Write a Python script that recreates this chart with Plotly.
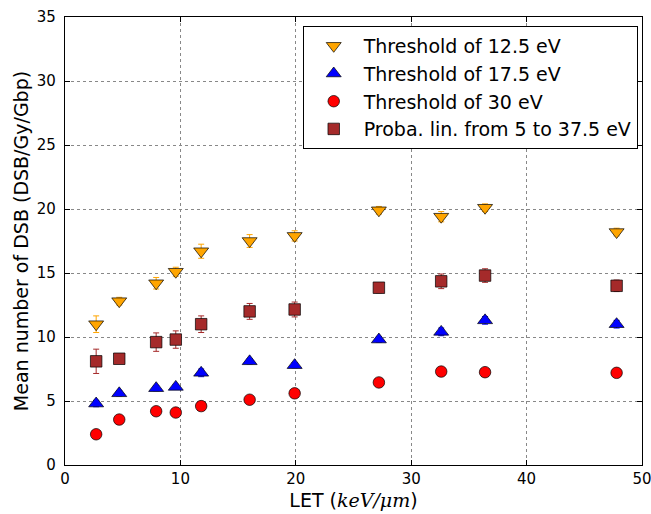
import plotly.graph_objects as go

let_values = [2.7, 4.7, 7.9, 9.6, 11.8, 16.0, 19.9, 27.2, 32.6, 36.4, 47.8]

thr125 = [11.0, 12.8, 14.2, 15.1, 16.7, 17.5, 17.9, 19.9, 19.4, 20.1, 18.2]
thr125_err = [0.65, 0.3, 0.45, 0.35, 0.55, 0.5, 0.4, 0.3, 0.4, 0.3, 0.3]

thr175 = [4.8, 5.6, 6.0, 6.1, 7.2, 8.1, 7.8, 9.8, 10.4, 11.3, 11.0]
thr175_err = [0.25, 0.2, 0.2, 0.2, 0.3, 0.2, 0.2, 0.2, 0.3, 0.3, 0.3]

thr30 = [2.4, 3.55, 4.2, 4.1, 4.6, 5.1, 5.6, 6.45, 7.3, 7.25, 7.2]
thr30_err = [0.2, 0.15, 0.15, 0.15, 0.15, 0.15, 0.15, 0.15, 0.15, 0.15, 0.15]

proba = [8.1, 8.3, 9.6, 9.8, 11.0, 12.0, 12.15, 13.85, 14.35, 14.8, 14.0]
proba_err = [0.95, 0.35, 0.72, 0.68, 0.65, 0.62, 0.58, 0.4, 0.57, 0.53, 0.45]

series = [
    ("Threshold of 12.5 eV", thr125, thr125_err, "triangle-down", "#FFA500", 13),
    ("Threshold of 17.5 eV", thr175, thr175_err, "triangle-up", "#0000FF", 13),
    ("Threshold of 30 eV", thr30, thr30_err, "circle", "#FF0000", 11.5),
    ("Proba. lin. from 5 to 37.5 eV", proba, proba_err, "square", "#A52A2A", 11.5),
]

fig = go.Figure()
for i, (name, y, err, sym, col, sz) in enumerate(series):
    fig.add_trace(go.Scatter(
        x=let_values, y=y, mode="markers", name=name,
        marker=dict(symbol=sym, color=col, size=sz, line=dict(color="black", width=0.7)),
        error_y=dict(type="data", array=err, visible=True, color=col, thickness=1, width=3),
    ))

axis_common = dict(
    showline=True, linecolor="black", linewidth=1.3, mirror="allticks",
    ticks="inside", ticklen=5, tickcolor="black", tickwidth=1,
    showgrid=True, gridcolor="#888888", griddash="dot", gridwidth=1,
    zeroline=False, automargin=False, ticklabeloverflow="allow",
    tickfont=dict(family="DejaVu Sans", size=15, color="black"),
)

fig.update_xaxes(range=[0, 50], dtick=10, **axis_common,
                 title=dict(text="LET (<span style=\"font-family:'DejaVu Serif'\"><i>keV/μm</i></span>)",
                            font=dict(family="DejaVu Sans", size=19, color="black"), standoff=6))
fig.update_yaxes(range=[0, 35], dtick=5, **axis_common, ticklabelstandoff=5,
                 title=dict(text="Mean number of DSB (DSB/Gy/Gbp)",
                            font=dict(family="DejaVu Sans", size=19, color="black"), standoff=3))

fig.update_layout(
    width=651, height=514,
    margin=dict(l=65, r=9, t=17, b=49, autoexpand=False),
    paper_bgcolor="white", plot_bgcolor="white",
    font=dict(family="DejaVu Sans", color="black"),
    legend=dict(x=0.412, y=0.98, xanchor="left", yanchor="top",
                bgcolor="white", bordercolor="black", borderwidth=1,
                font=dict(family="DejaVu Sans", size=19, color="black"),
                itemwidth=50),
    showlegend=True,
)

fig.write_html("out.html", config={"displayModeBar": False},
               post_script="document.body.style.margin='0';")
